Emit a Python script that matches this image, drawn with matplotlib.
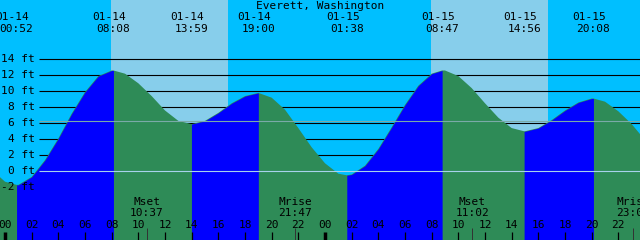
import matplotlib
matplotlib.use("Agg")
import matplotlib.pyplot as plt
import numpy as np

## Data
title = "Everett, Washington"
# tide extremes (date time, height ft)
extreme_times = ["01-14 00:52", "01-14 08:08", "01-14 13:59", "01-14 19:00",
                 "01-15 01:38", "01-15 08:47", "01-15 14:56", "01-15 20:08"]
extreme_levels = [-1.7, 12.6, 5.9, 9.8, -0.5, 12.6, 5.0, 9.1]
# hourly water level in ft (hour counted from 01-14 00:00)
hours = list(range(-1, 49))
levels = [0.2, -1.3, -1.7, -0.7, 1.4, 4.1, 7.2, 9.9, 11.9, 12.6,
          12.2, 11.0, 9.4, 7.6, 6.3, 5.9, 6.3, 7.3, 8.5, 9.4,
          9.8, 9.2, 7.7, 5.4, 3.0, 1.0, -0.3, -0.4, 0.7, 2.8,
          5.5, 8.3, 10.7, 12.2, 12.6, 11.9, 10.4, 8.5, 6.7, 5.4,
          5.0, 5.4, 6.4, 7.6, 8.6, 9.1, 8.7, 7.5, 5.9, 3.9]
# sun and moon
sunrise = ["01-14 07:57", "01-15 07:57"]
sunset = ["01-14 16:43", "01-15 16:43"]
moon_names = ["Mset", "Mrise", "Mset", "Mrise"]
moon_times = ["01-14 10:37", "01-14 21:47", "01-15 11:02", "01-15 23:06"]
ft_ticks = [14, 12, 10, 8, 6, 4, 2, 0, -2]
datum = 0.0
mean_level = 6.3

def to_hours(s):
    day = int(s[3:5]) - 14
    hh, mm = s[6:].split(":")
    return day * 24 + int(hh) + int(mm) / 60.

ev_h = [to_hours(s) for s in extreme_times]
t = np.array(hours + ev_h, dtype=float)
y = np.array(levels + extreme_levels, dtype=float)
order = np.argsort(t)
t, y = t[order], y[order]

NIGHT = "#00BFFF"
DAY = "#87CEEB"
FLOOD = "#0000FF"
EBB = "#2E8B57"
mono = "DejaVu Sans Mono"
fs = 8

fig = plt.figure(figsize=(6.4, 2.4), dpi=100)
ax = fig.add_axes([0, 0, 1, 1])
x0, x1 = -0.375, 47.625
ylo, yhi = -8.59, 21.41
ax.set_xlim(x0, x1)
ax.set_ylim(ylo, yhi)
ax.axis("off")
fig.patch.set_facecolor(NIGHT)
ax.axvspan(x0, x1, color=NIGHT, zorder=0)
for a, b in zip(sunrise, sunset):
    ax.axvspan(to_hours(a), to_hours(b), color=DAY, lw=0, zorder=1)

# grid lines (behind water)
gx = x0 + 39 / 640. * (x1 - x0)
for f in ft_ticks:
    if f != 0:
        ax.hlines(f, gx, x1, color="black", lw=0.8, zorder=2)
    ax.text(gx - 0.3, f, "%d ft" % f, ha="right", va="center",
            family=mono, fontsize=fs, zorder=6)

# water: ebb everywhere, flood between low and following high
ax.fill_between(t, y, ylo, color=EBB, lw=0, zorder=3)
for i in range(0, len(ev_h) - 1, 2):
    m = (t >= ev_h[i]) & (t <= ev_h[i + 1])
    ax.fill_between(t[m], y[m], ylo, color=FLOOD, lw=0, zorder=3)

ax.hlines(datum, gx, x1, color="#a8d2ec", lw=0.8, zorder=4)
ax.hlines(mean_level, gx, x1, color="#7aaaa8", lw=0.8, zorder=4)

# header
ax.text((x0 + x1) / 2, 20.7, title, ha="center", va="center",
        family=mono, fontsize=fs, zorder=6)
for s, h in zip(extreme_times, ev_h):
    ax.text(h - 0.3, 19.3, s[:5], ha="center", va="center",
            family=mono, fontsize=fs, zorder=6)
    ax.text(h, 17.8, s[6:], ha="center", va="center",
            family=mono, fontsize=fs, zorder=6)

# moon events
for n, s in zip(moon_names, moon_times):
    h = to_hours(s)
    ax.text(h, -3.8, n, ha="center", va="center", family=mono, fontsize=fs, zorder=6)
    ax.text(h, -5.2, s[6:], ha="center", va="center", family=mono, fontsize=fs, zorder=6)
    ax.vlines(h, ylo, -7.1, color="#333333", lw=0.7, zorder=5)

# hour axis
for h in range(0, 48, 2):
    ax.text(h, -6.7, "%02d" % (h % 24), ha="center", va="center",
            family=mono, fontsize=fs, zorder=6)
    lw = 2.5 if h % 24 == 0 else 0.9
    ax.vlines(h, ylo, -7.6, color="black", lw=lw, zorder=5)

fig.savefig("out.png", dpi=100, facecolor=NIGHT)
